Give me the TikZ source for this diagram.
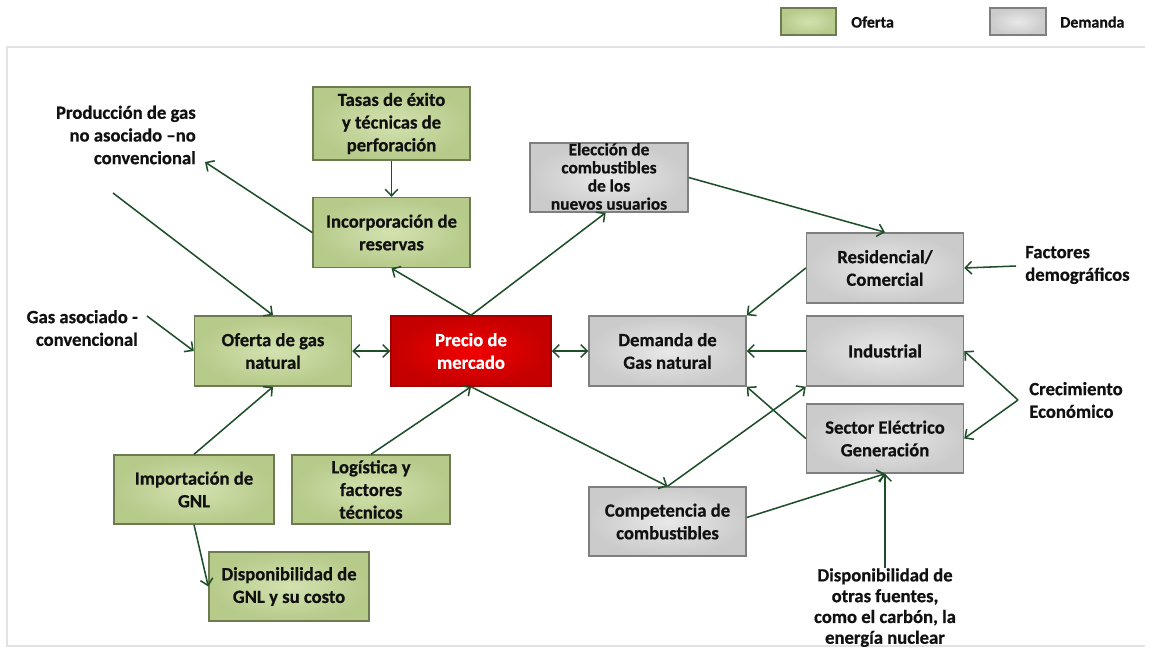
\documentclass[tikz,border=0pt]{standalone}
\usepackage{fontspec}
\setmainfont{Carlito}[BoldFeatures={FakeBold=0.6}]
\usetikzlibrary{arrows.meta,calc}
\definecolor{ogreen}{HTML}{C4D79B}
\definecolor{ogreenin}{HTML}{D3E2B0}
\definecolor{ogreenout}{HTML}{B6CA8A}
\definecolor{ogreenb}{HTML}{6E7A52}
\definecolor{dgray}{HTML}{D9D9D9}
\definecolor{dgrayin}{HTML}{E8E8E8}
\definecolor{dgrayout}{HTML}{CBCBCB}
\definecolor{dgrayb}{HTML}{7F7F7F}
\definecolor{pred}{HTML}{E00000}
\definecolor{predin}{HTML}{F20000}
\definecolor{predout}{HTML}{C40000}
\definecolor{predb}{HTML}{A00000}
\definecolor{agreen}{HTML}{1F4F2A}
\definecolor{txt}{HTML}{111111}
\definecolor{frame}{HTML}{E2E2E2}
\tikzset{
  box/.style={draw, line width=1.1pt, minimum width=117.75pt, minimum height=52.5pt,
    inner sep=1pt, align=center, text=txt, font=\bfseries\fontsize{14}{17}\selectfont},
  gbox/.style={box, draw=ogreenb, shading=radial, inner color=ogreenin, outer color=ogreenout},
  dbox/.style={box, draw=dgrayb, shading=radial, inner color=dgrayin, outer color=dgrayout},
  rbox/.style={box, draw=predb, shading=radial, inner color=predin, outer color=predout, text=white},
  lbl/.style={inner sep=0pt, text=txt, font=\bfseries\fontsize{14}{17}\selectfont},
  barb/.tip={Straight Barb[length=4.8pt,width=9.5pt,line width=1.15pt]},
  arr/.style={-barb, line width=1.15pt, draw=agreen},
  darr/.style={barb-barb, line width=1.15pt, draw=agreen},
}
\begin{document}
\begin{tikzpicture}[x=0.75pt,y=-0.75pt]
\useasboundingbox (0,0) rectangle (1153,651);
\fill[white] (0,0) rectangle (1153,651);
% frame
\draw[frame, line width=1.5pt] (1145,47) -- (7,47) -- (7,646) -- (1145,646);
% legend
\node[gbox, minimum width=41pt, minimum height=20pt] (legO) at (808.5,21.5) {};
\node[lbl, anchor=west, font=\bfseries\fontsize{12}{14}\selectfont] (legOt) at (851,22) {Oferta};
\node[dbox, minimum width=42pt, minimum height=20pt] (legD) at (1018,21.5) {};
\node[lbl, anchor=west, font=\bfseries\fontsize{12}{14}\selectfont] (legDt) at (1060,22) {Demanda};
% boxes
\node[gbox, minimum height=54.75pt] (tasas) at (391.5,123.5) {Tasas de éxito\\y técnicas de\\perforación};
\node[gbox] (incorp) at (391.5,232.5) {Incorporación de\\reservas};
\node[dbox, minimum width=118.5pt, minimum height=51.75pt] (elec) at (609,177.5)
  {\fontsize{13}{13.6}\selectfont\raisebox{-8pt}{\smash{\begin{tabular}{@{}c@{}}Elección de\\combustibles\\de los\\nuevos usuarios\end{tabular}}}};
\node[dbox] (resid) at (885,268) {Residencial/\\Comercial};
\node[gbox] (oferta) at (273,351) {Oferta de gas\\natural};
\node[rbox, minimum width=120pt] (precio) at (471,351) {Precio de\\mercado};
\node[dbox] (demanda) at (667.5,351) {Demanda de\\Gas natural};
\node[dbox] (indus) at (885,351) {Industrial};
\node[dbox, minimum height=51.75pt] (sector) at (885,438.5) {Sector Eléctrico\\Generación};
\node[gbox, minimum width=120pt, minimum height=51.75pt] (import) at (194,489.5) {Importación de\\GNL};
\node[gbox, minimum width=118.5pt, minimum height=51.75pt] (logis) at (371,489.5) {Logística y\\factores\\técnicos};
\node[dbox, minimum height=51.75pt] (compet) at (667.5,521.5) {Competencia de\\combustibles};
\node[gbox, minimum width=120pt, minimum height=51.75pt] (dispg) at (289,586.5) {Disponibilidad de\\GNL y su costo};
% free labels
\node[lbl, align=right, anchor=east] (prod) at (196,135) {Producción de gas\\no asociado –no\\convencional};
\node[lbl, align=right, anchor=east] (gasa) at (138,328) {Gas asociado -\\convencional};
\node[lbl, align=left, anchor=west] (facto) at (1025,265) {Factores\\demográficos};
\node[lbl, align=left, anchor=west] (crec) at (1029,400) {Crecimiento\\Económico};
\node[lbl, align=center, anchor=north, font=\bfseries\fontsize{14}{15.6}\selectfont] (dispo) at (885,568)
  {Disponibilidad de\\otras fuentes,\\como el carbón, la\\energía nuclear};
% free ends
\coordinate (prodin) at (205,162);
\coordinate (prodout) at (113,193);
\coordinate (gasout) at (147,316);
\coordinate (facout) at (1016,266);
\coordinate (crecout) at (1018,400);
% connectors
\draw[arr] (tasas.south) -- (incorp.north);
\draw[arr] (incorp.west) -- (prodin);
\draw[arr] (prodout) -- (oferta.north);
\draw[arr] (gasout) -- (oferta.west);
\draw[darr] (oferta.east) -- (precio.west);
\draw[darr] (precio.east) -- (demanda.west);
\draw[arr] (precio.north) -- (incorp.south);
\draw[arr] (precio.north) -- ([xshift=-2.5pt]elec.south);
\draw[arr] (elec.east) -- (resid.north);
\draw[arr] (facout) -- (resid.east);
\draw[arr] (resid.west) -- (demanda.north east);
\draw[arr] (indus.west) -- (demanda.east);
\draw[arr] (sector.west) -- (demanda.south east);
\draw[arr] (crecout) -- (indus.east);
\draw[arr] (crecout) -- (sector.east);
\draw[arr] (precio.south) -- (compet.north);
\draw[arr] (compet.north) -- (indus.south west);
\draw[arr] ([yshift=3pt]compet.east) -- (sector.south);
\draw[arr] (dispo.north) -- (sector.south);
\draw[arr] (logis.north) -- (precio.south);
\draw[arr] (import.north) -- (oferta.south);
\draw[arr] (import.south) -- (dispg.west);
\end{tikzpicture}
\end{document}
